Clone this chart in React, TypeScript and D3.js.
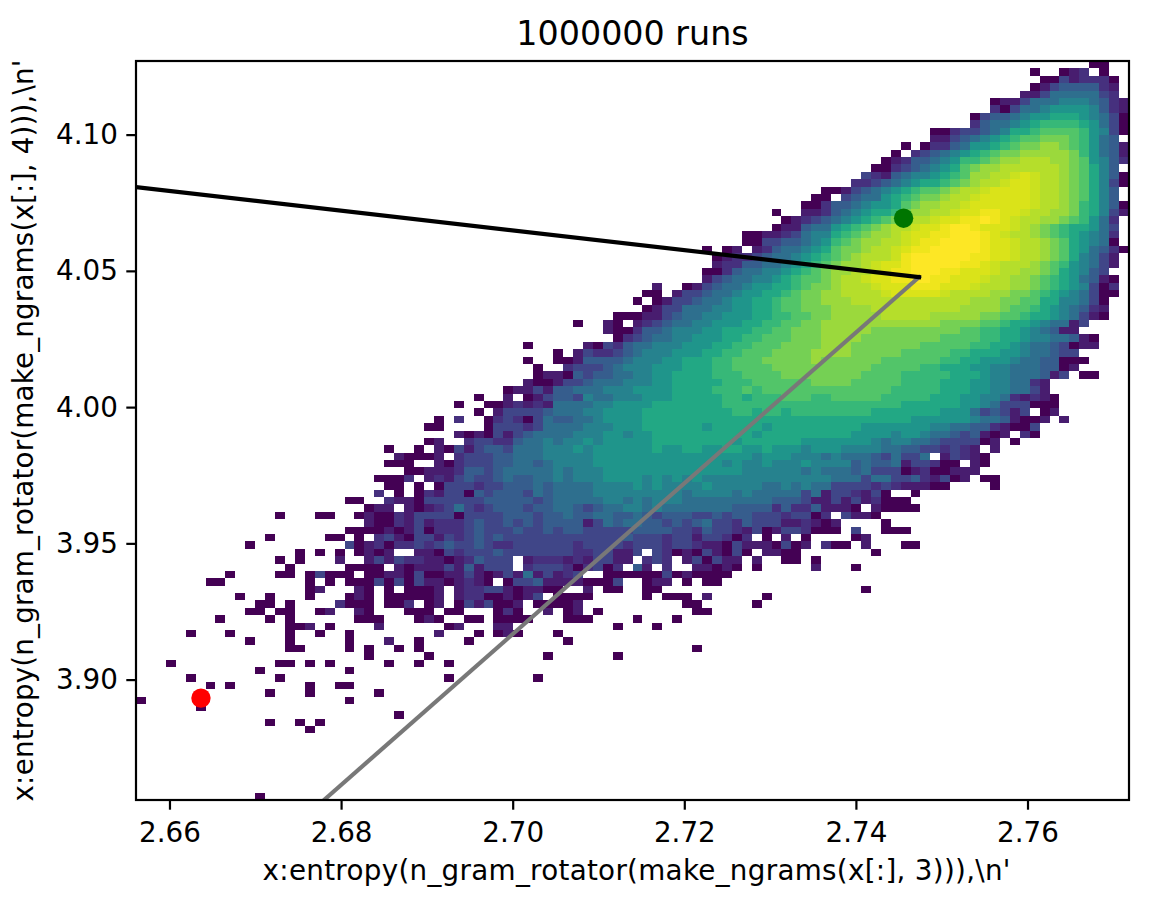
import * as d3 from "d3";
import { useEffect, useRef } from "react";

const WIDTH = 1168;
const HEIGHT = 900;
const LEFT = 136;
const RIGHT = 1129;
const TOP = 61;
const BOTTOM = 800;

const xDomain = [2.65604, 2.77177];
const yDomain = [3.856, 4.1272];
const xTicks = [2.66, 2.68, 2.7, 2.72, 2.74, 2.76];
const yTicks = [3.9, 3.95, 4.0, 4.05, 4.1];

const title = "1000000 runs";
const xLabel = "x:entropy(n_gram_rotator(make_ngrams(x[:], 3))),\\n'";
const yLabel = "x:entropy(n_gram_rotator(make_ngrams(x[:], 4))),\\n'";

const blackLine = [
  [2.65604, 4.0809],
  [2.7473, 4.0479],
];
const greyLine = [
  [2.67795, 3.856],
  [2.7473, 4.0479],
];
const redPoint = [2.66361, 3.8934];
const greenPoint = [2.7455, 4.0695];

// colour levels of the histogram, darkest to brightest, and where each sits on viridis
const levelChars = "0123456789abcdhegf".split("");
const levelValues = [
  0, 0.08, 0.14, 0.21, 0.29, 0.36, 0.44, 0.52, 0.6, 0.67, 0.73, 0.79, 0.85, 0.89, 0.92, 0.945,
  0.975, 1,
];

// 2d histogram, top row first, one character per bin, "." = empty bin
const rowStarts = [
  96, 90, 91, 90, 89, 86, 86, 84, 84, 80,
  80, 77, 76, 75, 74, 73, 72, 69, 68, 67,
  64, 65, 64, 61, 61, 57, 58, 58, 57, 57,
  52, 51, 50, 51, 48, 44, 47, 48, 39, 42,
  39, 40, 40, 39, 37, 34, 32, 34, 30, 29,
  32, 29, 25, 26, 25, 27, 24, 25, 24, 21,
  23, 14, 23, 21, 13, 11, 16, 14, 15, 9,
  7, 17, 10, 12, 11, 8, 15, 5, 11, 15,
  23, 3, 12, 5, 7, 13, 0, 6, 26, 13,
  17, 0, 0, 0, 0, 0, 0, 0, 0, 12,
];
const rowCells = [
  "00",
  "0..012.0",
  "00312220",
  "013444421",
  "1135555532",
  "01135556665421",
  "20355677776421",
  "0344567788876530",
  "2455678999987530",
  "00233456889aaaa97630",
  "113456789aabbba9754",
  "0.022457789abbccba97541",
  "0.23456789abbcccccb97541",
  "0124456799abccdddccba7642",
  "002345678abccddddddcba864",
  "3214566789accddhehddcba8640",
  "2234567889abcddheehddcba8630",
  "0013456789aabcddheeeehddcba864",
  "00.3455789abbcddheeeeehddcba864",
  "0024456778abccddheeeeeehddcb98640",
  "0..1124567889bccddheeggeehddccb98631",
  "0123456789abcddheeggfgehddccba9752",
  "011455789abcddheegffgeeehdcba988753",
  "00112356689abccdheeggfffgehddcba987652",
  "0033445679abccddheggffffgeehddcba87650",
  "0.01.12455678abbcddheggfffffgeehddcba875420",
  "012234556789abcdddhgffffffggeehddcba86531",
  "12244556789abccdheegfffffggehdddcba976531",
  "00245566789abccddheggfffggeeehddccba87643",
  "1345566789aabcddheeggffggeeehddccba9875410",
  "1..013455677889abbcdddheeegggeeehdddccba9876302",
  "00.133455677889abbccddddheeeeehddddccbba98765300",
  "0.0133455677889aabbcccddddddddddddcccbbaa8866530",
  "01335556677889aabbbccccdddddddddccccbaa98765421",
  "000113455667778899aabbcccccdddddcccccbbaa988765310",
  "0..10.123455667778899aabbccccccccccccbbbbaa988765513",
  "10024456667788899aabbbcccccbbbbbbbbbaa9988765411",
  "023455667778899aaabbbccccbbbbbbbbaaaa998876655410",
  "0.....10324556667778899aaabbbbcccbbbbbbbaaaaa9988765543011",
  "0.13223456667778899aaabbbbccccbbbbbaaaaa9988877655433",
  "0..001444456667788899aaabbbbbcbbbbbbaaaaaa998877765544000",
  "0..23334566677788899aaaabbbbbbbbbbaaaaa9988877665554401",
  "011043445566778888999aaaabbbbbbbbaaaa99999888766555413.00",
  "10013345556667788888999aaaaaabbbbaaaaa999988877665521",
  "011314455566677778888999a9aaaaaaaaaaaaa9999988877665531",
  "0..1.01344365566677788888998999aaa99aaaaa999998887766521210",
  "0..0012121555566777788888889999999999999999998888887765333000",
  "0.1333345556677778888888889989989999999988888887775343 13.01".split(" ").join(""),
  "0.2..023203544556777788888888888888888888888888877777765541001.1",
  "00....03332355556667778888887888887888888888777777766554421003",
  "10103134555566677677888888888878888888887777677655434101.20",
  "01..233224556566767777788888888788888877777776566554333301.0",
  "0..0.1031344355566676777777877887788778777677766665544332321.1",
  "10001.233344555666667777777777777777677766656555435335.13210",
  "000..10233344554566667777777777777676676667666645445133200.10",
  "0011124434555556566677777777777777666666565554533301200111",
  "0002.1213433454455656667777676767666666666666655535533421301.00",
  "00.0.0333233444545555666676766667666665565655333323211100....0",
  "2.0.021330434443545555666666666566665655555351332130..0",
  "00..21103333334444434555556656566655555555544431131312000",
  "011.1012353234443445543455665655555554444242241110.10000",
  "0...00..0100213333033334443445445544543444334344333233 02.3110".split(" ").join(""),
  "100213122234334343444413545544343453324333112101....0",
  "00001013022234333433434433333444433243321301332000.3..000",
  "0.....00.0.23103313234343333333333334333233133202.0.1.0....01",
  "0.........30120223234334322333333233332333233211031110301.200.1...00",
  "0.0.0.0101..11032333433333332233113.3201031030.1100.......0",
  "0.0...1..131322110124333.12221213311.232.130311.1..00.0",
  "0.....0000.101113141333.2333202302.41.2..11010.0.....1...0",
  "0....00.03000.0011030011310131513123..0000003010000",
  "00........0.0.000303031101210.033411110003..011.0.00",
  "01...10.0.0001.12233101100..1.00..00....................0",
  "0..0...0...010.000001.122001013.0000.....0.000.1.....0",
  "00.0....2000.002.01.0313001.00001..........00.....0",
  "00.00..01..10...000.00...020..1.01.0.........00",
  "0....0.0......000...010..00.0000...000....0...0",
  "001.0....1......01...11..........0...0",
  "0...0.....0..0..0........1...0.010...0",
  "0...0.....0...1..0....0.........0",
  "00....0.0..0.0...........................0",
  "0.....0...........0......0",
  "0..........00.0.0.....0..0..0",
  "0........0",
  "0........0................0........0",
  "0.0.......0..00",
  "0...0......0",
  "0....................0",
  "0",
  "0",
  "0..0.0",
  "0",
  "",
  "",
  "",
  "",
  "",
  "",
  "",
  "",
  "0",
];

export default function App() {
  const ref = useRef<SVGSVGElement>(null);

  useEffect(() => {
    if (!ref.current) return;

    const svg = d3.select(ref.current);
    svg.selectAll("*").remove();

    const x = d3.scaleLinear().domain(xDomain).range([LEFT, RIGHT]);
    const y = d3.scaleLinear().domain(yDomain).range([BOTTOM, TOP]);
    const binX = d3.scaleBand<number>().domain(d3.range(100)).range([LEFT, RIGHT]);
    const binY = d3.scaleBand<number>().domain(d3.range(100)).range([TOP, BOTTOM]);
    const color = d3
      .scaleOrdinal<string, string>()
      .domain(levelChars)
      .range(levelValues.map((v) => d3.interpolateViridis(v)));

    const cells = rowCells.flatMap((chars, row) =>
      Array.from(chars).flatMap((level, i) =>
        level === "." ? [] : [{ row, col: rowStarts[row] + i, level }],
      ),
    );

    svg
      .append("g")
      .selectAll("rect")
      .data(cells)
      .join("rect")
      .attr("x", (d) => binX(d.col)!)
      .attr("y", (d) => binY(d.row)!)
      .attr("width", binX.bandwidth())
      .attr("height", binY.bandwidth())
      .attr("fill", (d) => color(d.level))
      .attr("shape-rendering", "crispEdges");

    svg
      .append("clipPath")
      .attr("id", "plot-area")
      .append("rect")
      .attr("x", LEFT)
      .attr("y", TOP)
      .attr("width", RIGHT - LEFT)
      .attr("height", BOTTOM - TOP);

    const plot = svg.append("g").attr("clip-path", "url(#plot-area)");
    const line = d3
      .line<number[]>()
      .x((d) => x(d[0]))
      .y((d) => y(d[1]));

    plot
      .append("path")
      .attr("d", line(greyLine))
      .attr("fill", "none")
      .attr("stroke", "#787878")
      .attr("stroke-width", 4.17)
      .attr("stroke-linecap", "square");
    plot
      .append("path")
      .attr("d", line(blackLine))
      .attr("fill", "none")
      .attr("stroke", "#000")
      .attr("stroke-width", 4.17)
      .attr("stroke-linecap", "square");

    svg
      .append("circle")
      .attr("cx", x(redPoint[0]))
      .attr("cy", y(redPoint[1]))
      .attr("r", 9.7)
      .attr("fill", "#ff0000");
    svg
      .append("circle")
      .attr("cx", x(greenPoint[0]))
      .attr("cy", y(greenPoint[1]))
      .attr("r", 9.7)
      .attr("fill", "#007500");

    const xAxis = d3
      .axisBottom(x)
      .tickValues(xTicks)
      .tickFormat(d3.format(".2f"))
      .tickSize(9.7)
      .tickPadding(12.6)
      .offset(0);
    const yAxis = d3
      .axisLeft(y)
      .tickValues(yTicks)
      .tickFormat(d3.format(".2f"))
      .tickSize(9.7)
      .tickPadding(8.5)
      .offset(0);

    const gx = svg.append("g").attr("transform", `translate(0,${BOTTOM})`).call(xAxis);
    const gy = svg.append("g").attr("transform", `translate(${LEFT},0)`).call(yAxis);
    for (const g of [gx, gy]) {
      g.select(".domain").remove();
      g.selectAll("line").attr("stroke", "#000").attr("stroke-width", 2.2);
      g.selectAll("text").attr("fill", "#000");
      g.attr("font-family", "DejaVu Sans").attr("font-size", 27.78);
    }

    svg
      .append("rect")
      .attr("x", LEFT)
      .attr("y", TOP)
      .attr("width", RIGHT - LEFT)
      .attr("height", BOTTOM - TOP)
      .attr("fill", "none")
      .attr("stroke", "#000")
      .attr("stroke-width", 2.2);

    const text = svg
      .append("g")
      .attr("font-family", "DejaVu Sans")
      .attr("text-anchor", "middle")
      .attr("fill", "#000");
    text
      .append("text")
      .attr("x", (LEFT + RIGHT) / 2)
      .attr("y", 45)
      .attr("font-size", 33.33)
      .text(title);
    text
      .append("text")
      .attr("x", (LEFT + RIGHT) / 2 + 4)
      .attr("y", 880)
      .attr("font-size", 27.78)
      .attr("textLength", 748)
      .text(xLabel);
    text
      .append("text")
      .attr("transform", `translate(33,${(TOP + BOTTOM) / 2}) rotate(-90)`)
      .attr("font-size", 27.78)
      .attr("textLength", 742)
      .text(yLabel);
  }, []);

  return (
    <svg
      ref={ref}
      width={WIDTH}
      height={HEIGHT}
      style={{ position: "absolute", left: 0, top: 0, background: "#fff" }}
    />
  );
}
